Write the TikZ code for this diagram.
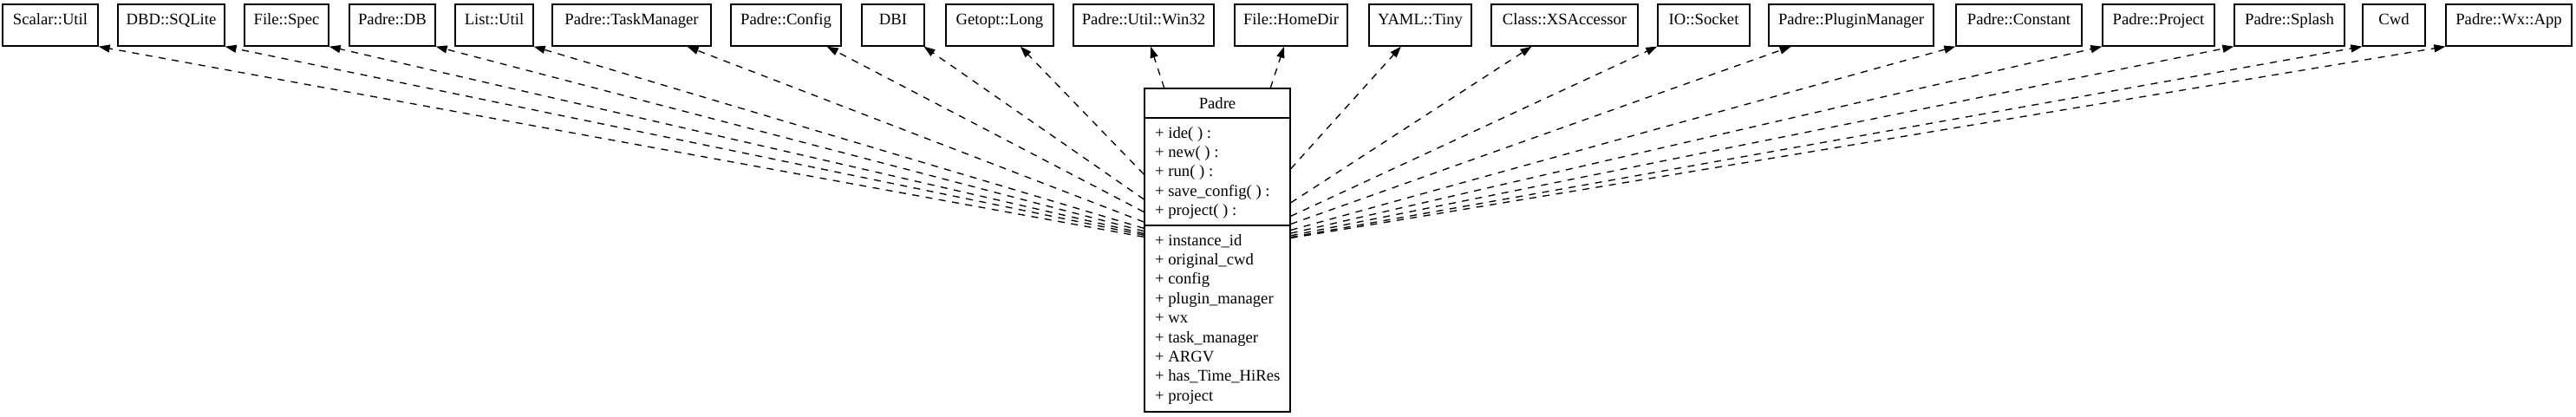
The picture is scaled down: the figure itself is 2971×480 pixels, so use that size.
\documentclass[tikz,border=0pt]{standalone}
\usepackage{fontspec}
\setmainfont{Liberation Serif}
\usetikzlibrary{arrows.meta}
\begin{document}
\begin{tikzpicture}[x=1pt,y=-1pt,
  mod/.style={draw, line width=1.33pt, rectangle, inner xsep=0pt, inner ysep=0pt,
    text height=23pt, text depth=25pt, font=\fontsize{18.67}{22}\selectfont},
  txt/.style={inner sep=0pt, font=\fontsize{18.67}{22}\selectfont},
  classbox/.style={draw, line width=1.33pt, rectangle, inner sep=0pt},
  sepline/.style={line width=1.33pt},
  dep/.style={dash pattern=on 8pt off 7.5pt, line width=1.33pt,
    -{Triangle[length=13pt,width=9pt]}}]
\useasboundingbox (0,0) rectangle (2971,480);
% top modules
\node[mod, minimum width=110pt] (n1)  at (58,29)     {Scalar::Util};
\node[mod, minimum width=123pt] (n2)  at (197.5,29)  {DBD::SQLite};
\node[mod, minimum width=97pt]  (n3)  at (330.5,29)  {File::Spec};
\node[mod, minimum width=99pt]  (n4)  at (452.5,29)  {Padre::DB};
\node[mod, minimum width=90pt]  (n5)  at (570,29)    {List::Util};
\node[mod, minimum width=183pt] (n6)  at (728.5,29)  {Padre::TaskManager};
\node[mod, minimum width=127pt] (n7)  at (906.5,29)  {Padre::Config};
\node[mod, minimum width=72pt]  (n8)  at (1030,29)   {DBI};
\node[mod, minimum width=124pt] (n9)  at (1153,29)   {Getopt::Long};
\node[mod, minimum width=162pt] (n10) at (1319,29)   {Padre::Util::Win32};
\node[mod, minimum width=130pt] (n11) at (1489,29)   {File::HomeDir};
\node[mod, minimum width=118pt] (n12) at (1638,29)   {YAML::Tiny};
\node[mod, minimum width=169pt] (n13) at (1804.5,29) {Class::XSAccessor};
\node[mod, minimum width=106pt] (n14) at (1965,29)   {IO::Socket};
\node[mod, minimum width=190pt] (n15) at (2135,29)   {Padre::PluginManager};
\node[mod, minimum width=145pt] (n16) at (2328.5,29) {Padre::Constant};
\node[mod, minimum width=129pt] (n17) at (2489.5,29) {Padre::Project};
\node[mod, minimum width=127pt] (n18) at (2640.5,29) {Padre::Splash};
\node[mod, minimum width=72pt]  (n19) at (2761,29)   {Cwd};
\node[mod, minimum width=145pt] (n20) at (2893.5,29) {Padre::Wx::App};
% Padre class
\node[classbox, minimum width=168pt, minimum height=373pt] (padre) at (1404,288.5) {};
\node[txt, anchor=base] (ptitle) at (1404,125) {Padre};
\draw[sepline] (padre.west |- 0,136) -- (padre.east |- 0,136);
\draw[sepline] (padre.west |- 0,260) -- (padre.east |- 0,260);
\node[txt, anchor=base west] (m1) at (1332,159)   {+ ide( ) :};
\node[txt, anchor=base west] (m2) at (1332,181.4) {+ new( ) :};
\node[txt, anchor=base west] (m3) at (1332,203.8) {+ run( ) :};
\node[txt, anchor=base west] (m4) at (1332,226.2) {+ save\_config( ) :};
\node[txt, anchor=base west] (m5) at (1332,248.6) {+ project( ) :};
\node[txt, anchor=base west] (a1) at (1332,283)   {+ instance\_id};
\node[txt, anchor=base west] (a2) at (1332,305.4) {+ original\_cwd};
\node[txt, anchor=base west] (a3) at (1332,327.8) {+ config};
\node[txt, anchor=base west] (a4) at (1332,350.2) {+ plugin\_manager};
\node[txt, anchor=base west] (a5) at (1332,372.6) {+ wx};
\node[txt, anchor=base west] (a6) at (1332,395)   {+ task\_manager};
\node[txt, anchor=base west] (a7) at (1332,417.4) {+ ARGV};
\node[txt, anchor=base west] (a8) at (1332,439.8) {+ has\_Time\_HiRes};
\node[txt, anchor=base west] (a9) at (1332,462.2) {+ project};
% dependencies
\foreach \i in {1,...,5}
  \draw[dep] (padre) -- (n\i.south east);
\foreach \i in {6,...,15}
  \draw[dep] (padre) -- (n\i);
\foreach \i in {16,...,20}
  \draw[dep] (padre) -- (n\i.south west);
\end{tikzpicture}
\end{document}
